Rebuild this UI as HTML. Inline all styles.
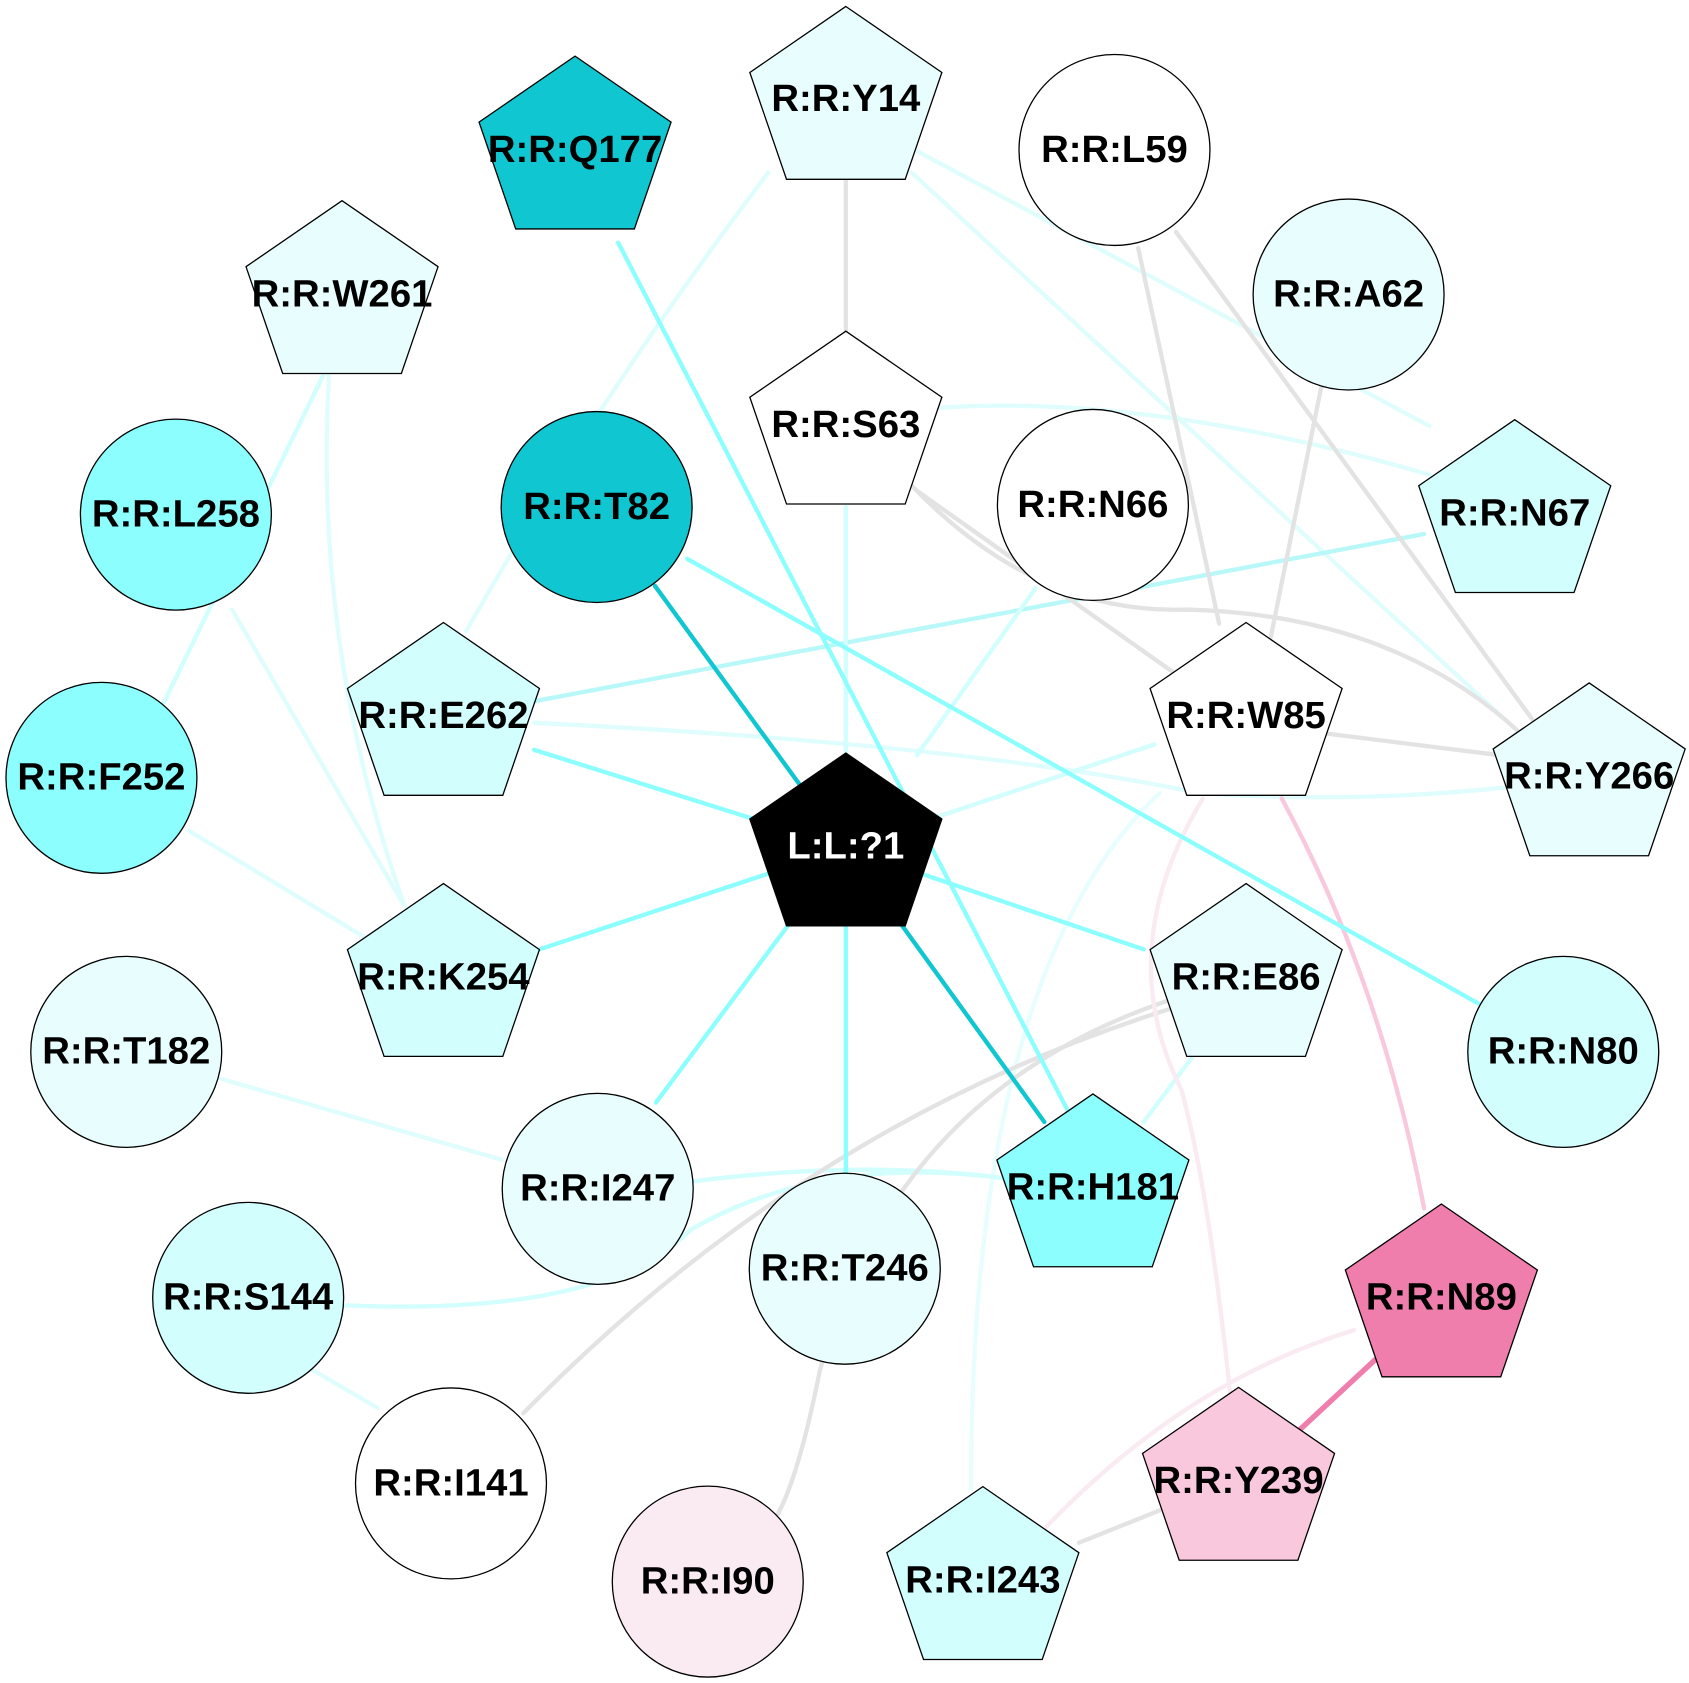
<!DOCTYPE html>
<html><head><meta charset="utf-8"><style>html,body{margin:0;padding:0;background:#fff}svg{display:block}</style></head><body>
<svg width="1689" height="1683" viewBox="0 0 1565.5 1560" xmlns="http://www.w3.org/2000/svg">
<g fill="none" stroke-width="4" stroke-linecap="round">
<path d="M712,160 Q560,360 432,585" stroke="#e0fdfd"/>
<path d="M850,140 L1325,395" stroke="#e0fdfd"/>
<path d="M845,160 L1420,690" stroke="#e0fdfd"/>
<path d="M845,380 Q1050,360 1325,440" stroke="#e0fdfd"/>
<path d="M300,347 L150,655" stroke="#d2fefe"/>
<path d="M305,347 Q290,600 375,840" stroke="#e0fdfd"/>
<path d="M215,565 L375,840" stroke="#e0fdfd"/>
<path d="M175,770 L340,870" stroke="#e0fdfd"/>
<path d="M495,650 L1320,495" stroke="#b8f8f8"/>
<path d="M495,670 Q900,690 1110,735 Q1250,745 1395,730" stroke="#e0fdfd"/>
<path d="M1075,735 Q900,900 900,1380" stroke="#e8fdfd"/>
<path d="M1105,980 L1060,1040" stroke="#d2fefe"/>
<path d="M205,1000 L465,1075" stroke="#e0fdfd"/>
<path d="M642,1095 Q800,1075 930,1092" stroke="#d2fefe"/>
<path d="M320,1210 Q560,1220 640,1140 Q760,1070 930,1092" stroke="#d2fefe"/>
<path d="M290,1270 L350,1305" stroke="#e0fdfd"/>
<path d="M960,545 L850,700" stroke="#d2fefe"/>
<path d="M784,470 L784,700" stroke="#d2fefe"/>
<path d="M860,760 L1070,690" stroke="#d2fefe"/>
<path d="M784,167 L784,307" stroke="#e3e3e3"/>
<path d="M1055,230 L1130,578" stroke="#e3e3e3"/>
<path d="M1090,215 L1430,680" stroke="#e3e3e3"/>
<path d="M1225,357 L1178,590" stroke="#e3e3e3"/>
<path d="M845,450 Q960,570 1100,565 Q1300,570 1420,690" stroke="#e3e3e3"/>
<path d="M850,455 L1090,625" stroke="#e3e3e3"/>
<path d="M1230,680 L1390,700" stroke="#e3e3e3"/>
<path d="M1085,935 Q750,1040 485,1310" stroke="#e3e3e3"/>
<path d="M1090,925 Q830,1010 760,1270 Q740,1370 720,1405" stroke="#e3e3e3"/>
<path d="M1075,1400 L1000,1430" stroke="#e3e3e3"/>
<path d="M1115,740 Q1030,880 1095,1010 Q1120,1100 1140,1290" stroke="#faeaf2"/>
<path d="M1255,1233 Q1100,1280 970,1415" stroke="#faeaf2"/>
<path d="M1188,740 Q1280,910 1320,1120" stroke="#f9c8dd"/>
<path d="M1275,1260 L1205,1325" stroke="#f07eac" stroke-width="5"/>
<path d="M573,225 L990,1030" stroke="#8cfefe"/>
<path d="M637,518 L1370,930" stroke="#8cfefe"/>
<path d="M495,695 L784,786" stroke="#8cfefe"/>
<path d="M500,880 L784,786" stroke="#8cfefe"/>
<path d="M608,1022 L784,786" stroke="#8cfefe"/>
<path d="M784,1088 L784,786" stroke="#8cfefe"/>
<path d="M1060,880 L784,786" stroke="#8cfefe"/>
<path d="M607,543 L784,786" stroke="#10c6d0"/>
<path d="M968,1040 L784,786" stroke="#10c6d0"/>
</g>
<g stroke="#000" stroke-width="1.2">
<polygon points="533,52 622,113.2 588,212.2 478,212.2 444,113.2" fill="#10c6d0"/>
<polygon points="784,6 873,67.2 839,166.2 729,166.2 695,67.2" fill="#e8fefe"/>
<polygon points="317,186 406,247.2 372,346.2 262,346.2 228,247.2" fill="#e8fefe"/>
<polygon points="784,307 873,368.2 839,467.2 729,467.2 695,368.2" fill="#fff"/>
<polygon points="1404,389 1493,450.2 1459,549.2 1349,549.2 1315,450.2" fill="#d2fefe"/>
<polygon points="411,577 500,638.2 466,737.2 356,737.2 322,638.2" fill="#d2fefe"/>
<polygon points="1155,577 1244,638.2 1210,737.2 1100,737.2 1066,638.2" fill="#fff"/>
<polygon points="1473,633 1562,694.2 1528,793.2 1418,793.2 1384,694.2" fill="#e8fefe"/>
<polygon points="784,698 873,759.2 839,858.2 729,858.2 695,759.2" fill="#000"/>
<polygon points="411,819 500,880.2 466,979.2 356,979.2 322,880.2" fill="#d2fefe"/>
<polygon points="1155,819 1244,880.2 1210,979.2 1100,979.2 1066,880.2" fill="#e8fefe"/>
<polygon points="1013,1014 1102,1075.2 1068,1174.2 958,1174.2 924,1075.2" fill="#8cfefe"/>
<polygon points="1336,1116 1425,1177.2 1391,1276.2 1281,1276.2 1247,1177.2" fill="#f07eac"/>
<polygon points="1148,1286 1237,1347.2 1203,1446.2 1093,1446.2 1059,1347.2" fill="#f9c8dd"/>
<polygon points="911,1378 1000,1439.2 966,1538.2 856,1538.2 822,1439.2" fill="#d2fefe"/>
<circle cx="1033" cy="139" r="88.5" fill="#fff"/>
<circle cx="1250" cy="273" r="88.5" fill="#e8fdfd"/>
<circle cx="163" cy="477" r="88.5" fill="#8cfefe"/>
<circle cx="553" cy="470" r="88.5" fill="#10c6d0"/>
<circle cx="1013" cy="468" r="88.5" fill="#fff"/>
<circle cx="94" cy="721" r="88.5" fill="#8cfefe"/>
<circle cx="117" cy="975" r="88.5" fill="#e8fefe"/>
<circle cx="1449" cy="975" r="88.5" fill="#d2fefe"/>
<circle cx="554" cy="1102" r="88.5" fill="#e8fefe"/>
<circle cx="783" cy="1176" r="88.5" fill="#e8fefe"/>
<circle cx="230" cy="1203" r="88.5" fill="#d2fefe"/>
<circle cx="418" cy="1375" r="88.5" fill="#fff"/>
<circle cx="656" cy="1466" r="88.5" fill="#faeaf2"/>
</g>
<g font-family="Liberation Sans, Arial, sans-serif" font-weight="bold" font-size="35.5" text-anchor="middle" fill="#000">
<text x="533" y="150">R:R:Q177</text>
<text x="784" y="103">R:R:Y14</text>
<text x="1033" y="150">R:R:L59</text>
<text x="1250" y="284">R:R:A62</text>
<text x="317" y="284">R:R:W261</text>
<text x="784" y="405">R:R:S63</text>
<text x="163" y="488">R:R:L258</text>
<text x="553" y="481">R:R:T82</text>
<text x="1013" y="479">R:R:N66</text>
<text x="1404" y="487">R:R:N67</text>
<text x="411" y="675">R:R:E262</text>
<text x="1155" y="675">R:R:W85</text>
<text x="94" y="732">R:R:F252</text>
<text x="1473" y="731">R:R:Y266</text>
<text x="784" y="796" fill="#fff">L:L:?1</text>
<text x="411" y="917">R:R:K254</text>
<text x="1155" y="917">R:R:E86</text>
<text x="117" y="986">R:R:T182</text>
<text x="1449" y="986">R:R:N80</text>
<text x="554" y="1113">R:R:I247</text>
<text x="1013" y="1112">R:R:H181</text>
<text x="783" y="1187">R:R:T246</text>
<text x="230" y="1214">R:R:S144</text>
<text x="1336" y="1214">R:R:N89</text>
<text x="418" y="1386">R:R:I141</text>
<text x="1148" y="1384">R:R:Y239</text>
<text x="656" y="1477">R:R:I90</text>
<text x="911" y="1476">R:R:I243</text>
</g>
</svg>
</body></html>
